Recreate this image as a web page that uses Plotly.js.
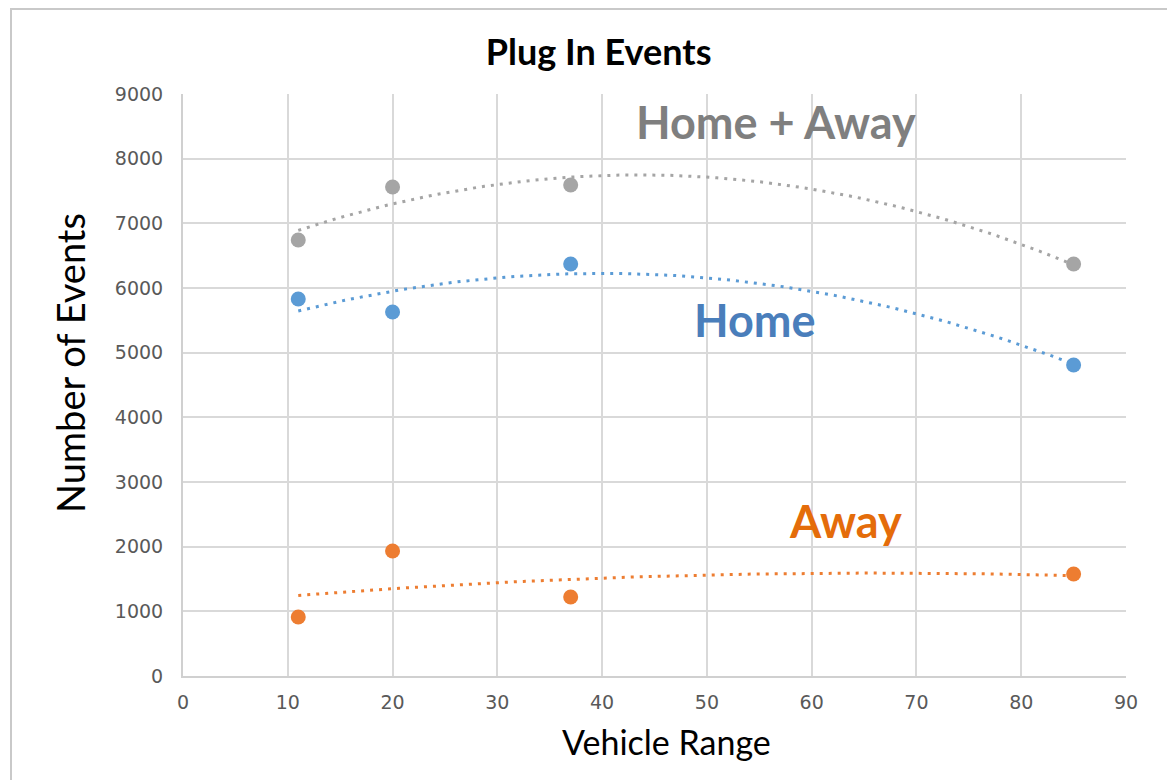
<!DOCTYPE html>
<html>
<head>
<meta charset="utf-8">
<script src="https://cdn.plot.ly/plotly-3.0.1.min.js"></script>
<style>
html,body{margin:0;padding:0;background:#fff;}
#frame{position:absolute;left:10px;top:8px;width:1170px;height:790px;border:2px solid #c9c9c9;box-sizing:border-box;}
#chart{position:absolute;left:0;top:0;width:1167px;height:780px;}
</style>
</head>
<body>
<div id="frame"></div>
<div id="chart"></div>
<script>
const vehicleRange = [11, 20, 37, 85];
const homeAway = [6742, 7561, 7592, 6371];
const home = [5830, 5629, 6371, 4809];
const away = [912, 1933, 1222, 1577];
const xTicks = [0, 10, 20, 30, 40, 50, 60, 70, 80, 90];
const yTicks = [0, 1000, 2000, 3000, 4000, 5000, 6000, 7000, 8000, 9000];

const colGray = '#a5a5a5', colBlue = '#5b9bd5', colOrange = '#ed7d31';

// Quadratic least-squares trendline (Excel "Polynomial, order 2")
function polyFit2(xs, ys) {
  let n = xs.length, s = [0,0,0,0,0], t = [0,0,0];
  for (let i = 0; i < n; i++) {
    let p = 1;
    for (let k = 0; k < 5; k++) { s[k] += p; if (k < 3) t[k] += p * ys[i]; p *= xs[i]; }
  }
  const A = [[s[0], s[1], s[2], t[0]], [s[1], s[2], s[3], t[1]], [s[2], s[3], s[4], t[2]]];
  for (let i = 0; i < 3; i++) {
    for (let j = i + 1; j < 3; j++) {
      const f = A[j][i] / A[i][i];
      for (let k = i; k < 4; k++) A[j][k] -= f * A[i][k];
    }
  }
  const c = [0,0,0];
  for (let i = 2; i >= 0; i--) {
    let v = A[i][3];
    for (let k = i + 1; k < 3; k++) v -= A[i][k] * c[k];
    c[i] = v / A[i][i];
  }
  return c;
}
function trend(ys) {
  const c = polyFit2(vehicleRange, ys);
  const x0 = Math.min(...vehicleRange), x1 = Math.max(...vehicleRange);
  const xs = [], yv = [];
  for (let i = 0; i <= 100; i++) {
    const x = x0 + (x1 - x0) * i / 100;
    xs.push(x); yv.push(c[0] + c[1] * x + c[2] * x * x);
  }
  return {x: xs, y: yv};
}

const traces = [];
[[homeAway, colGray], [home, colBlue], [away, colOrange]].forEach(([ys, col]) => {
  const t = trend(ys);
  traces.push({x: t.x, y: t.y, mode: 'lines', line: {color: col, width: 3, dash: '3px,6px'}, hoverinfo: 'skip'});
  traces.push({x: vehicleRange, y: ys, mode: 'markers', marker: {color: col, size: 15}});
});

// pixel helpers for label placement
const L = 183, R = 1126, T = 94, B = 676;
function px2x(p) { return (p - L) / (R - L) * 90; }
function px2y(p) { return (B - p) / (B - T) * 9000; }
function px2px(p) { return (p - L) / (R - L); }
function px2py(p) { return (B - p) / (B - T); }

const layout = {
  width: 1167, height: 780,
  margin: {l: 183, r: 41, t: 94, b: 104},
  paper_bgcolor: 'rgba(0,0,0,0)', plot_bgcolor: '#fff',
  showlegend: false,
  title: {text: 'Plug In Events', font: {family: 'Lato', size: 36, color: '#000', weight: 'bold'}, x: 0.513, xanchor: 'center', y: 0.933, yanchor: 'middle'},
  xaxis: {
    range: [0, 90], tickvals: xTicks, ticktext: xTicks.map(String),
    showgrid: true, gridcolor: '#d9d9d9', gridwidth: 2,
    showline: true, linecolor: '#d0d0d0', linewidth: 2, zeroline: false,
    ticks: '', tickfont: {family: 'DejaVu Sans', size: 19, color: '#595959'}, ticklabelstandoff: 8
  },
  yaxis: {
    range: [0, 9000], tickvals: yTicks, ticktext: yTicks.map(String),
    showgrid: true, gridcolor: '#d9d9d9', gridwidth: 2,
    showline: true, linecolor: '#d0d0d0', linewidth: 2, zeroline: false,
    ticks: '', tickfont: {family: 'DejaVu Sans', size: 19, color: '#595959'}, ticklabelstandoff: 14
  },
  annotations: [
    {text: 'Home + Away', x: px2x(776), y: px2y(122), xref: 'x', yref: 'y', showarrow: false,
     xanchor: 'center', yanchor: 'middle', font: {family: 'Lato', size: 45, color: '#7f7f7f', weight: 'bold'}},
    {text: 'Home', x: px2x(755), y: px2y(320), xref: 'x', yref: 'y', showarrow: false,
     xanchor: 'center', yanchor: 'middle', font: {family: 'Lato', size: 45, color: '#4a7ebb', weight: 'bold'}},
    {text: 'Away', x: px2x(845), y: px2y(521), xref: 'x', yref: 'y', showarrow: false,
     xanchor: 'center', yanchor: 'middle', font: {family: 'Lato', size: 45, color: '#e46c0a', weight: 'bold'}},
    {text: 'Vehicle Range', x: px2px(666), y: px2py(741), xref: 'paper', yref: 'paper', showarrow: false,
     xanchor: 'center', yanchor: 'middle', font: {family: 'Lato', size: 34, color: '#000'}},
    {text: 'Number of Events', x: px2px(70), y: px2py(363), xref: 'paper', yref: 'paper', showarrow: false, textangle: -90,
     xanchor: 'center', yanchor: 'middle', font: {family: 'Lato', size: 38, color: '#000'}}
  ]
};

Plotly.newPlot('chart', traces, layout, {displayModeBar: false, staticPlot: true});
</script>
</body>
</html>
